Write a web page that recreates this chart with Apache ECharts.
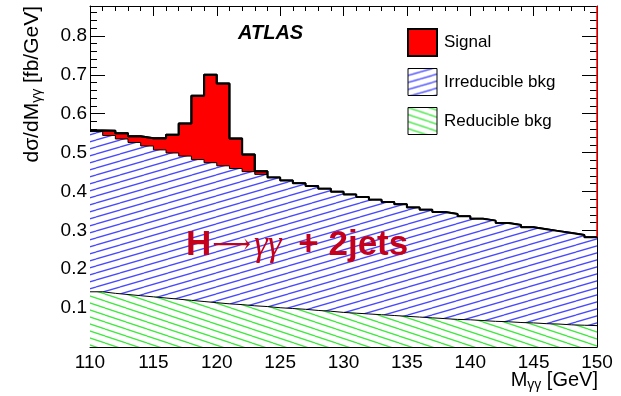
<!DOCTYPE html>
<html><head><meta charset="utf-8">
<script src="https://cdn.jsdelivr.net/npm/echarts@6/dist/echarts.min.js"></script>
<style>html,body{margin:0;padding:0;background:#fff;}#c{width:621px;height:396px;}</style>
</head><body><div id="c"></div>
<script>
// bin edges of the 1 GeV histogram bins (GeV)
const binEdges = [110,111,112,113,114,115,116,117,118,119,120,121,122,123,124,125,126,127,128,129,130,
  131,132,133,134,135,136,137,138,139,140,141,142,143,144,145,146,147,148,149,150];
// per-bin contents (fb/GeV)
const reducible = [0.142,0.138,0.135,0.132,0.129,0.126,0.123,0.120,0.117,0.114,0.111,0.109,0.106,0.104,0.101,
  0.099,0.097,0.094,0.092,0.089,0.087,0.085,0.083,0.081,0.079,0.077,0.075,0.073,0.071,0.070,
  0.068,0.066,0.065,0.063,0.062,0.060,0.059,0.057,0.056,0.055];
const irreducible = [0.412,0.406,0.400,0.394,0.388,0.381,0.376,0.371,0.365,0.360,0.355,0.350,0.345,0.340,0.335,
  0.329,0.324,0.320,0.315,0.310,0.305,0.301,0.296,0.292,0.288,0.282,0.278,0.274,0.271,0.266,
  0.262,0.259,0.254,0.251,0.246,0.243,0.239,0.236,0.232,0.227];
const signal = [0.003,0.012,0.015,0.016,0.020,0.030,0.047,0.084,0.164,0.226,0.212,0.077,0.044,0.008,0,
  0,0,0,0,0,0,0,0,0,0,0,0,0,0,0,
  0,0,0,0,0,0,0,0,0,0];
const seriesNames = ['Signal','Irreducible bkg','Reducible bkg'];

const FONT = 'Liberation Sans';

function hatch(color, W, H, rising) {
  const c = document.createElement('canvas');
  c.width = W; c.height = H;
  const g = c.getContext('2d');
  g.fillStyle = '#fff'; g.fillRect(0, 0, W, H);
  g.strokeStyle = color; g.lineWidth = 1.3;
  for (const dx of [-W, 0, W]) for (const dy of [-H, 0, H]) {
    g.beginPath();
    if (rising) { g.moveTo(dx, H + dy); g.lineTo(W + dx, dy); }
    else { g.moveTo(dx, dy); g.lineTo(W + dx, H + dy); }
    g.stroke();
  }
  return { image: c, repeat: 'repeat' };
}
const bluePat = hatch('#4848ff', 24, 7, true);
const greenPat = hatch('#3ee83e', 21, 7, false);

// stacked sums (stack drawn as overlapping opaque areas from zero)
const bkgSum = reducible.map((r, i) => r + irreducible[i]);
const totalSum = bkgSum.map((b, i) => b + signal[i]);

function stepData(vals) {
  return binEdges.map((e, i) => [e, vals[Math.min(i, vals.length - 1)]]);
}
const lastTotal = totalSum[totalSum.length - 1];

const chart = echarts.init(document.getElementById('c'), null, { renderer: 'canvas' });
const tickStyle = { color: '#000', width: 1 };
const yMax = 0.877;
chart.setOption({
  animation: false,
  backgroundColor: '#fff',
  grid: { left: 90, right: 24, top: 6, bottom: 49 },
  xAxis: [
    { type: 'value', min: 110, max: 150, interval: 5, position: 'bottom',
      axisLine: { show: true, onZero: false, lineStyle: tickStyle },
      axisTick: { show: true, inside: true, length: 11, lineStyle: tickStyle },
      minorTick: { show: true, splitNumber: 5, length: 6, lineStyle: tickStyle },
      splitLine: { show: false },
      axisLabel: { fontFamily: FONT, fontSize: 19, color: '#000', margin: 6 } },
    { type: 'value', min: 110, max: 150, interval: 5, position: 'top',
      axisLine: { show: true, onZero: false, lineStyle: tickStyle },
      axisTick: { show: true, inside: true, length: 10, lineStyle: tickStyle },
      minorTick: { show: true, splitNumber: 5, length: 5, lineStyle: tickStyle },
      splitLine: { show: false }, axisLabel: { show: false } }
  ],
  yAxis: [
    { type: 'value', min: 0, max: yMax, interval: 0.1, position: 'left',
      axisLine: { show: true, onZero: false, lineStyle: tickStyle },
      axisTick: { show: true, inside: true, length: 15, lineStyle: tickStyle },
      splitLine: { show: false },
      axisLabel: { fontFamily: FONT, fontSize: 19, color: '#000', margin: 3,
        showMinLabel: false, showMaxLabel: false,
        formatter: v => (v > 0.05 && v < 0.85) ? v.toFixed(1) : '' } },
    { type: 'value', min: 0, max: yMax, interval: 0.02, position: 'left',
      axisLine: { show: false }, axisTick: { show: true, inside: true, length: 7, lineStyle: tickStyle },
      splitLine: { show: false }, axisLabel: { show: false } },
    { type: 'value', min: 0, max: yMax, interval: 0.1, position: 'right',
      axisLine: { show: true, onZero: false, lineStyle: tickStyle },
      axisTick: { show: true, inside: true, length: 15, lineStyle: tickStyle },
      splitLine: { show: false }, axisLabel: { show: false } },
    { type: 'value', min: 0, max: yMax, interval: 0.02, position: 'right',
      axisLine: { show: false }, axisTick: { show: true, inside: true, length: 7, lineStyle: tickStyle },
      splitLine: { show: false }, axisLabel: { show: false } }
  ],
  legend: {
    orient: 'vertical', left: 407, top: 28, padding: 0, itemWidth: 29, itemHeight: 27, itemGap: 11,
    selectedMode: false,
    textStyle: { fontFamily: FONT, fontSize: 17, color: '#000', padding: [0, 0, 0, 2] },
    data: [
      { name: seriesNames[0], icon: 'rect', itemStyle: { color: '#ff0000', borderColor: '#000', borderWidth: 2 } },
      { name: seriesNames[1], icon: 'rect', itemStyle: { color: bluePat, borderColor: '#000', borderWidth: 1 } },
      { name: seriesNames[2], icon: 'rect', itemStyle: { color: greenPat, borderColor: '#000', borderWidth: 1 } }
    ]
  },
  series: [
    { name: seriesNames[0], type: 'line', step: 'end', symbol: 'none', z: 2,
      data: stepData(totalSum),
      lineStyle: { color: '#000', width: 2 },
      itemStyle: { color: '#ff0000' },
      areaStyle: { color: '#ff0000', opacity: 1, origin: 'start' },
      markLine: { silent: true, symbol: 'none', label: { show: false },
        lineStyle: { color: '#ff0000', width: 1.5, type: 'solid' },
        data: [[{ coord: [150, lastTotal] }, { coord: [150, yMax] }]] } },
    { name: seriesNames[1], type: 'line', step: 'end', symbol: 'none', z: 3,
      data: stepData(bkgSum),
      lineStyle: { color: '#000', width: 1 },
      itemStyle: { color: '#4848ff' },
      areaStyle: { color: bluePat, opacity: 1, origin: 'start' } },
    { name: seriesNames[2], type: 'line', step: 'end', symbol: 'none', z: 4,
      data: stepData(reducible),
      lineStyle: { color: '#000', width: 1 },
      itemStyle: { color: '#3ee83e' },
      areaStyle: { color: greenPat, opacity: 1, origin: 'start' } },
    { name: 'Total outline', type: 'line', step: 'end', symbol: 'none', z: 5, silent: true,
      data: stepData(totalSum), lineStyle: { color: '#000', width: 2 } }
  ],
  graphic: [
    { type: 'text', z: 100, left: 238, top: 23, style: { text: 'ATLAS', fill: '#000',
      font: 'italic bold 20px "Liberation Sans"' } },
    { type: 'text', z: 100, x: 186, y: 228, style: {
      text: '{a|H}{b|⟶}{c|γγ}{a| + 2jets}',
      rich: {
        a: { fontFamily: FONT, fontWeight: 'bold', fontSize: 35, fill: '#c4001c' },
        b: { fontFamily: 'DejaVu Serif', fontSize: 27, fill: '#c4001c', padding: [0, 1, 0, 1] },
        c: { fontFamily: 'Liberation Serif', fontStyle: 'italic', fontSize: 35, fill: '#c4001c', padding: [0, 7, 0, 2] }
      } } },
    { type: 'text', z: 100, x: 20, y: 6, rotation: Math.PI / 2, style: {
      text: '{n|dσ/dM}{s|γγ}{n| [fb/GeV]}', align: 'right', verticalAlign: 'top',
      rich: {
        n: { fontFamily: FONT, fontSize: 21, fill: '#000', lineHeight: 24, verticalAlign: 'middle' },
        s: { fontFamily: FONT, fontSize: 14, fill: '#000', lineHeight: 24, verticalAlign: 'bottom', padding: [10, 0, 0, 0] }
      } } },
    { type: 'text', z: 100, x: 598, y: 369, style: {
      text: '{n|M}{s|γγ}{n| [GeV]}', align: 'right', verticalAlign: 'top',
      rich: {
        n: { fontFamily: FONT, fontSize: 20, fill: '#000', lineHeight: 23, verticalAlign: 'middle' },
        s: { fontFamily: FONT, fontSize: 14, fill: '#000', lineHeight: 23, verticalAlign: 'bottom', padding: [10, 0, 0, 0] }
      } } }
  ]
});
</script>
</body></html>
